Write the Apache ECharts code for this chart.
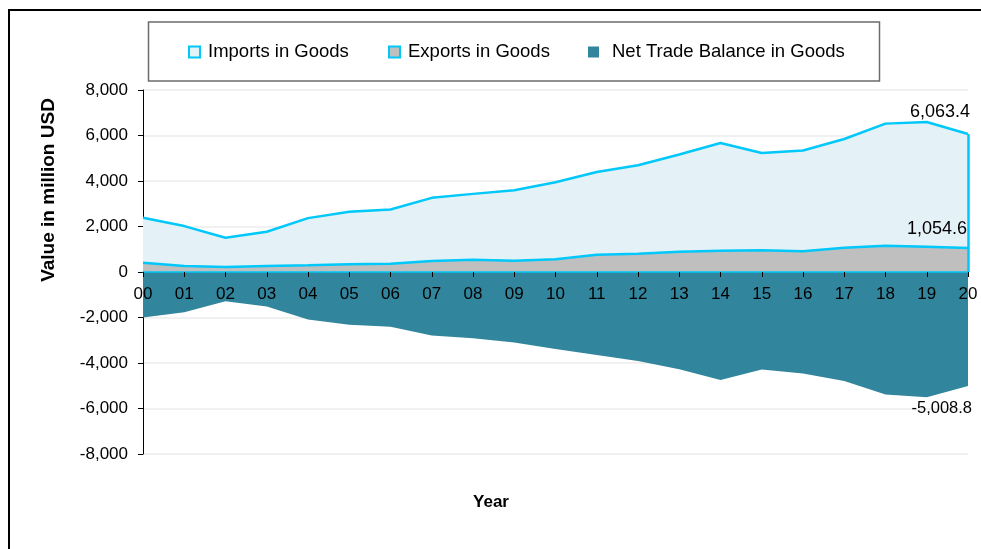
<!DOCTYPE html>
<html>
<head>
<meta charset="utf-8">
<script src="https://cdn.jsdelivr.net/npm/echarts@6/dist/echarts.min.js"></script>
<style>
html,body{margin:0;padding:0;background:#fff;}
#chart{width:981px;height:549px;}
</style>
</head>
<body>
<div id="chart"></div>
<script>
const years = ['00','01','02','03','04','05','06','07','08','09','10','11','12','13','14','15','16','17','18','19','20'];
const imports = [2382,2018,1504,1768,2368,2645,2750,3259,3434,3596,3947,4399,4693,5162,5671,5232,5338,5846,6522,6592,6063.4];
const exportsG = [408,263,225,263,294,338,364,482,539,496,557,759,803,890,934,952,908,1066,1154,1110,1054.6];
const netBalance = [-2000,-1770,-1290,-1520,-2090,-2320,-2410,-2790,-2910,-3100,-3390,-3645,-3910,-4270,-4745,-4290,-4460,-4795,-5380,-5510,-5008.8];
const seriesNames = ['Imports in Goods','Exports in Goods','Net Trade Balance in Goods'];
const yMin = -8000, yMax = 8000, yStep = 2000;

const FONT = '"Liberation Sans", Arial, Helvetica, sans-serif';
const CYAN = '#00c8fa';
const fmt1 = v => v.toLocaleString('en-US',{minimumFractionDigits:1,maximumFractionDigits:1});

function withEndLabel(arr, labelOpt){
  return arr.map((v,i)=> i===arr.length-1
    ? {value:v, symbol:'circle', symbolSize:0.01, label:Object.assign({show:true, formatter:p=>fmt1(p.value), color:'#000', fontSize:18, fontFamily:FONT}, labelOpt)}
    : v);
}

const GRID_TOP = 90, GRID_BOTTOM = 95, H = 549;
const plotH = H - GRID_TOP - GRID_BOTTOM;
// shift x axis up from plot bottom to the value 0 line
const zeroShift = -plotH * (0 - yMin) / (yMax - yMin);

const chart = echarts.init(document.getElementById('chart'), null, {renderer:'canvas'});
const legendBase = {
  orient:'horizontal', top:42, padding:0, itemWidth:11, itemHeight:11, icon:'rect',
  textStyle:{fontSize:18.5, fontFamily:FONT, color:'#000', lineHeight:20, padding:[0,0,0,3]},
  selectedMode:false
};
const option = {
  animation:false,
  backgroundColor:'#fff',
  grid:{left:143, right:13, top:GRID_TOP, bottom:GRID_BOTTOM, containLabel:false},
  legend:[
    Object.assign({}, legendBase, {left:188, data:[{name:seriesNames[0], itemStyle:{color:'#e4f1f7', borderColor:CYAN, borderWidth:2}}]}),
    Object.assign({}, legendBase, {left:388, data:[{name:seriesNames[1], itemStyle:{color:'#bfbfbf', borderColor:CYAN, borderWidth:2}}]}),
    Object.assign({}, legendBase, {left:588, data:[{name:seriesNames[2], itemStyle:{color:'#31859c', borderWidth:0}}],
      textStyle:Object.assign({}, legendBase.textStyle, {padding:[0,0,0,8]})})
  ],
  xAxis:{
    type:'category', data:years, boundaryGap:false, z:10, position:'bottom', offset:zeroShift,
    axisLine:{onZero:false, lineStyle:{color:CYAN, width:1.5}},
    axisTick:{show:true, length:5, interval:0, lineStyle:{color:'#000', width:1}},
    axisLabel:{interval:0, color:'#000', fontSize:17, fontFamily:FONT, margin:14},
    splitLine:{show:false}
  },
  yAxis:{
    type:'value', min:yMin, max:yMax, interval:yStep,
    axisLine:{show:true, lineStyle:{color:'#000', width:1}},
    axisTick:{show:true, length:5, lineStyle:{color:'#000'}},
    axisLabel:{color:'#000', fontSize:17, fontFamily:FONT, margin:15, formatter:v=>v.toLocaleString('en-US')},
    splitLine:{show:true, lineStyle:{color:'#ececec', width:1.5}}
  },
  series:[
    {
      name:seriesNames[0], type:'line', data:withEndLabel(imports,{position:'top', align:'right', offset:[2,-8]}),
      symbol:'none', showAllSymbol:true, z:2,
      lineStyle:{color:CYAN, width:2.5}, itemStyle:{color:CYAN},
      areaStyle:{color:'#e4f1f7', opacity:1},
      markLine:{silent:true, symbol:'none', animation:false, label:{show:false},
        lineStyle:{color:CYAN, width:2.5, type:'solid'},
        data:[[{coord:[years[years.length-1],0]},{coord:[years[years.length-1],imports[imports.length-1]]}]]}
    },
    {
      name:seriesNames[1], type:'line', data:withEndLabel(exportsG,{position:'top', align:'right', offset:[-1,-5]}),
      symbol:'none', showAllSymbol:true, z:3,
      lineStyle:{color:CYAN, width:2.5}, itemStyle:{color:CYAN},
      areaStyle:{color:'#bfbfbf', opacity:1}
    },
    {
      name:seriesNames[2], type:'line', data:withEndLabel(netBalance,{position:'bottom', align:'right', offset:[4,9], fontSize:16.5}),
      symbol:'none', showAllSymbol:true, z:4,
      lineStyle:{color:'#31859c', width:0}, itemStyle:{color:'#31859c'},
      areaStyle:{color:'#31859c', opacity:1}
    }
  ],
  graphic:[
    {type:'rect', z:100, silent:true, shape:{x:9, y:10, width:1100, height:700}, style:{fill:null, stroke:'#000', lineWidth:2}},
    {type:'rect', z:100, silent:true, shape:{x:148.5, y:22, width:731, height:59}, style:{fill:null, stroke:'#6b6b6b', lineWidth:1.5}},
    {type:'text', z:100, silent:true, x:49, y:190, rotation:Math.PI/2,
      style:{text:'Value in million USD', font:'bold 19px '+FONT, fill:'#000', textAlign:'center', textVerticalAlign:'middle'}},
    {type:'text', z:100, silent:true, x:491, y:502,
      style:{text:'Year', font:'bold 17px '+FONT, fill:'#000', textAlign:'center', textVerticalAlign:'middle'}}
  ]
};
chart.setOption(option);
</script>
</body>
</html>
